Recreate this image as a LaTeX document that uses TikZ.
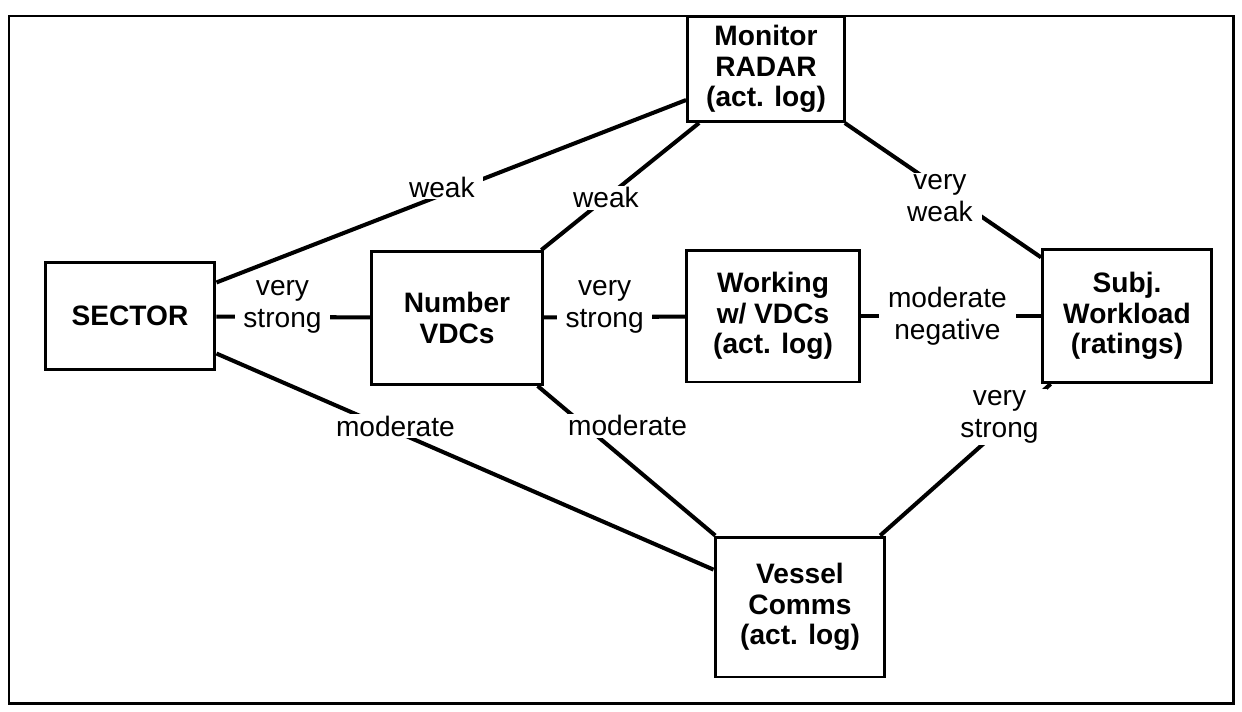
\documentclass[tikz,border=0pt]{standalone}
\usepackage{fontspec}
\setmainfont{Liberation Sans}
\begin{document}
\begin{tikzpicture}[x=.02cm, y=-.02cm, font=\fontsize{16}{18}\selectfont,
    box/.style={draw, line width=1.7pt, align=center, inner sep=1pt, font=\fontsize{16}{17.5}\selectfont\bfseries},
    link/.style={line width=2.3pt},
    lbl/.style={fill=white, align=center, inner xsep=5pt, inner ysep=1pt}]
            \useasboundingbox (0,0) rectangle (1242,711);
            \draw[line width=1.7pt] (9,16) rectangle (1233,703);
            % boxes
            \node[box, minimum width=3.14cm, minimum height=2.1cm] (radar) at (766,69) {Monitor\\RADAR\\(act. log)};
            \node[box, minimum width=3.4cm, minimum height=2.14cm] (sector) at (130,316) {SECTOR};
            \node[box, minimum width=3.42cm, minimum height=2.66cm] (number) at (457,318) {Number\\VDCs};
            \node[box, minimum width=3.46cm, minimum height=2.64cm] (working) at (773,316) {Working\\w/ VDCs\\(act. log)};
            \node[box, minimum width=3.38cm, minimum height=2.66cm] (subj) at (1127,316) {Subj.\\Workload\\(ratings)};
            \node[box, minimum width=3.4cm, minimum height=2.8cm] (vessel) at (800,607) {Vessel\\Comms\\(act. log)};
            % links
            \draw[link] (sector) -- node[lbl, pos=.43, yshift=.2cm]{very\\strong} (number);
            \draw[link] (sector) -- node[lbl, pos=.48, yshift=.15cm]{weak} (radar);
            \draw[link] (sector) -- node[lbl, pos=.36, yshift=.1cm]{moderate} (vessel);
            \draw[link] (number) -- node[lbl, pos=.41]{weak} (radar);
            \draw[link] (number) -- node[lbl, pos=.43, yshift=.2cm]{very\\strong} (working);
            \draw[link] (number) -- node[lbl, pos=.45, xshift=.2cm, yshift=.55cm]{moderate} (vessel);
            \draw[link] (working) -- node[lbl, pos=.48]{moderate\\negative} (subj);
            \draw[link] (radar) -- node[lbl, pos=.485, yshift=-.2cm]{very\\weak} (subj);
            \draw[link] (subj) -- node[lbl, pos=.3, yshift=.25cm]{very\\strong} (vessel);
        \end{tikzpicture}
\end{document}
